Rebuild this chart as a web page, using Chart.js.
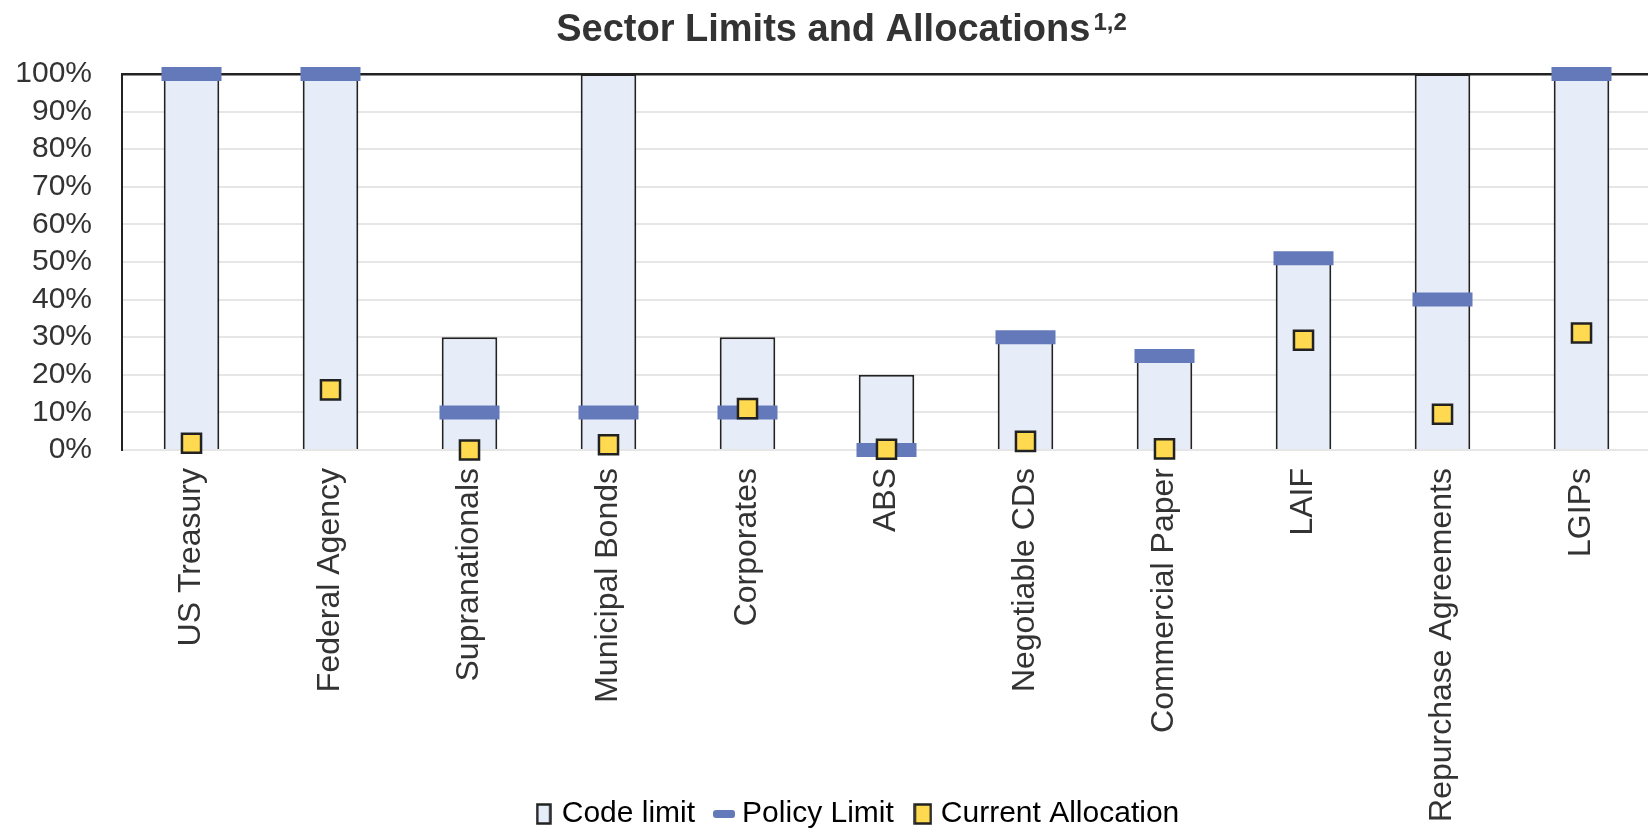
<!DOCTYPE html>
<html>
<head>
<meta charset="utf-8">
<title>Sector Limits and Allocations</title>
<script src="https://cdn.jsdelivr.net/npm/chart.js@4/dist/chart.umd.min.js"></script>
<style>
  html, body { margin: 0; padding: 0; background: #fff; overflow: hidden; }
  /* the plot runs off the right edge of the page */
  #wrap { width: 1695px; height: 835px; }
</style>
</head>
<body>
<div id="wrap"><canvas id="sectorChart"></canvas></div>
<script>
/* --- Data (percent of portfolio) --- */

const sectors = [
  'US Treasury', 'Federal Agency', 'Supranationals', 'Municipal Bonds',
  'Corporates', 'ABS', 'Negotiable CDs', 'Commercial Paper',
  'LAIF', 'Repurchase Agreements', 'LGIPs'
];

const codeLimit = [100, 100, 30, 100, 30, 20, 30, 25, 50, 100, 100];
const policyLimit = [100, 100, 10, 10, 10, 0, 30, 25, 51, 40, 100];
const currentAllocation = [1.8, 16, 0, 1.4, 11, 0.2, 2.3, 0.3, 29.2, 9.5, 31.1];

const legendLabels = ['Code limit', 'Policy Limit', 'Current Allocation'];

/* --- Styles --- */

const FONT = '"Liberation Sans", Arial, sans-serif';
const TEXT = '#333';
const BAR_FILL = '#E6EDF8';
const OUTLINE = '#222';
const POLICY_BLUE = '#6479B9';
const ALLOC_YELLOW = '#FFD94F';

Chart.defaults.font.family = FONT;
Chart.defaults.color = TEXT;

// small canvases used as legend symbols
function makeIcon(w, h, paint) {
  const c = document.createElement('canvas');
  c.width = w;
  c.height = h;
  paint(c.getContext('2d'), w, h);
  return c;
}

const icons = [
  makeIcon(16, 22, (ctx, w, h) => {
    ctx.fillStyle = BAR_FILL;
    ctx.fillRect(1, 1, w - 2, h - 2);
    ctx.lineWidth = 2.5;
    ctx.strokeStyle = OUTLINE;
    ctx.strokeRect(1.5, 1.5, w - 3, h - 3);
  }),
  makeIcon(22, 8, (ctx, w, h) => {
    ctx.fillStyle = POLICY_BLUE;
    ctx.beginPath();
    ctx.roundRect(0, 0, w, h, 3);
    ctx.fill();
  }),
  makeIcon(19, 22, (ctx, w, h) => {
    ctx.fillStyle = ALLOC_YELLOW;
    ctx.fillRect(1, 1, w - 2, h - 2);
    ctx.lineWidth = 2.5;
    ctx.strokeStyle = OUTLINE;
    ctx.strokeRect(1.5, 1.5, w - 3, h - 3);
  })
];

/* --- Plugins --- */

// title with a raised footnote marker
const titleWithNote = {
  id: 'titleWithNote',
  afterDraw(chart) {
    const ctx = chart.ctx;
    const main = 'Sector Limits and Allocations';
    const note = '1,2';
    ctx.save();
    ctx.fillStyle = TEXT;
    ctx.textBaseline = 'alphabetic';
    ctx.textAlign = 'left';
    ctx.font = 'bold 38px ' + FONT;
    const mainW = ctx.measureText(main).width;
    ctx.font = 'bold 24px ' + FONT;
    const noteW = ctx.measureText(note).width;
    const x0 = chart.width / 2 - 6 - (mainW + noteW + 3) / 2;
    ctx.font = 'bold 38px ' + FONT;
    ctx.fillText(main, x0, 41);
    ctx.font = 'bold 24px ' + FONT;
    ctx.fillText(note, x0 + mainW + 3, 30);
    ctx.restore();
  }
};

const layoutTweaks = {
  id: 'layoutTweaks',
  afterLayout(chart) {
    // legend sits a little right of the canvas centre
    const lg = chart.legend;
    lg.left += 6;
    lg.right += 6;
    lg.top += 4;
    lg.bottom += 4;
    // category labels run down past the legend row: don't clip them
    chart.scales.x.bottom = chart.height;
  }
};

/* --- Chart --- */

const data = {
  labels: sectors,
  datasets: [
    {
      type: 'bar',
      label: legendLabels[0],
      data: codeLimit,
      backgroundColor: BAR_FILL,
      borderColor: OUTLINE,
      borderWidth: 2,
      borderSkipped: 'start',
      barPercentage: 0.4,
      categoryPercentage: 1,
      order: 3
    },
    {
      type: 'line',
      label: legendLabels[1],
      data: policyLimit,
      showLine: false,
      pointStyle: 'line',
      pointRadius: 30,
      pointHoverRadius: 30,
      pointBorderWidth: 14,
      pointBorderColor: POLICY_BLUE,
      borderColor: POLICY_BLUE,
      clip: false,
      order: 2
    },
    {
      type: 'line',
      label: legendLabels[2],
      data: currentAllocation,
      showLine: false,
      pointStyle: 'rect',
      pointRadius: 13.5,
      pointHoverRadius: 13.5,
      pointBorderWidth: 2.5,
      pointBackgroundColor: ALLOC_YELLOW,
      pointBorderColor: OUTLINE,
      clip: false,
      order: 1
    }
  ]
};

const config = {
  data: data,
  plugins: [titleWithNote, layoutTweaks],
  options: {
    responsive: true,
    maintainAspectRatio: false,
    animation: false,
    events: [],
    layout: {
      padding: { top: 74, left: 15, right: 2, bottom: 0 }
    },
    plugins: {
      title: { display: false },
      tooltip: { enabled: false },
      legend: {
        position: 'bottom',
        labels: {
          usePointStyle: true,
          pointStyleWidth: 6,
          padding: 26,
          font: { size: 30 },
          color: TEXT,
          generateLabels: () => legendLabels.map((text, i) => ({
            text: text,
            pointStyle: icons[i],
            fillStyle: 'transparent',
            strokeStyle: 'transparent',
            lineWidth: 0,
            hidden: false,
            datasetIndex: i
          }))
        }
      }
    },
    scales: {
      x: {
        grid: { display: false },
        border: { display: false },
        ticks: {
          autoSkip: false,
          minRotation: 90,
          maxRotation: 90,
          padding: 10,
          font: { size: 32 },
          color: TEXT
        },
        afterFit: (scale) => {
          scale.height = 319;
          scale.paddingLeft = 0;
          scale.paddingRight = 0;
        }
      },
      y: {
        min: 0,
        max: 100,
        border: { display: true, color: OUTLINE, width: 2 },
        grid: {
          drawTicks: false,
          color: (ctx) => ctx.tick.value === 100 ? OUTLINE : '#E6E6E6',
          lineWidth: (ctx) => ctx.tick.value === 100 ? 2.5 : 2
        },
        ticks: {
          stepSize: 10,
          autoSkip: false,
          padding: 30,
          font: { size: 30 },
          color: TEXT,
          callback: (v) => v + '%'
        },
        afterFit: (scale) => { scale.width = 107; }
      }
    }
  }
};

const sectorChart = new Chart(
  document.getElementById('sectorChart').getContext('2d'),
  config
);
</script>
</body>
</html>
